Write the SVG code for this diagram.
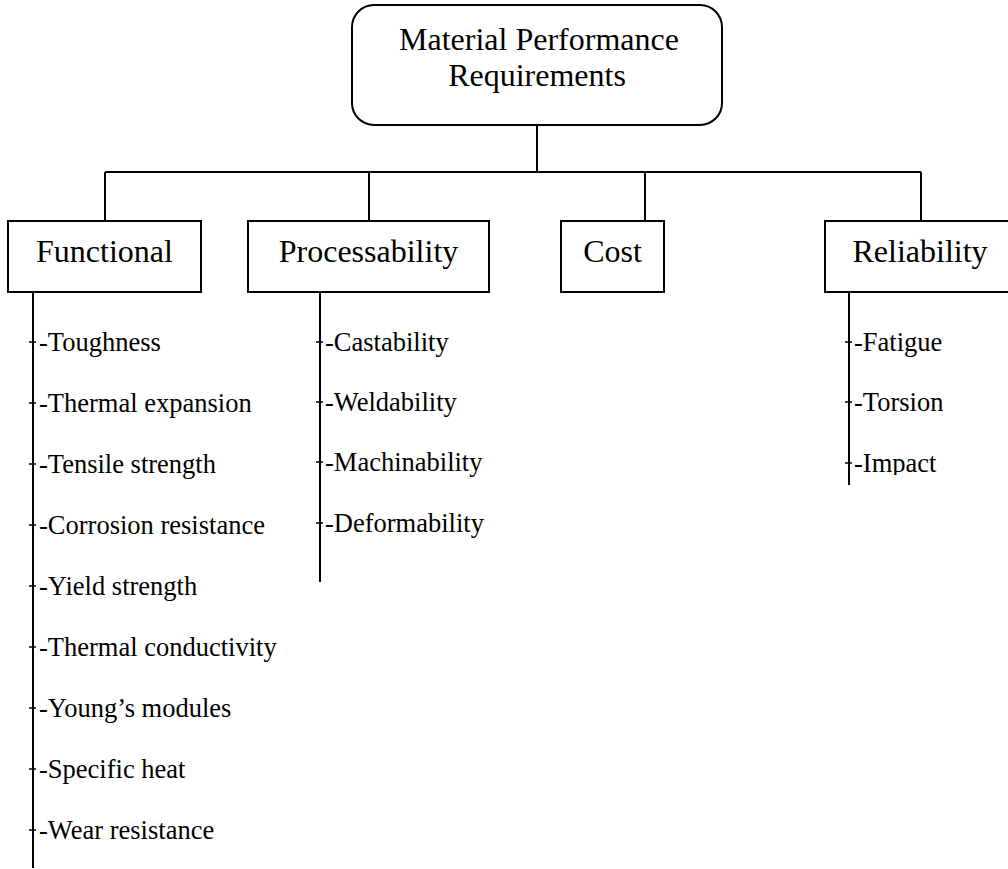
<svg xmlns="http://www.w3.org/2000/svg" width="1008" height="869" viewBox="0 0 1008 869">
  <style>
    .box { fill: #ffffff; stroke: #000000; stroke-width: 2; }
    .wire { fill: none; stroke: #000000; stroke-width: 2; }
    .tick { fill: none; stroke: #000000; stroke-width: 1.5; }
    .head { font-family: "Liberation Serif", "Times New Roman", serif; font-size: 32px; fill: #000000; text-anchor: middle; }
    .item { font-family: "Liberation Serif", "Times New Roman", serif; font-size: 26.5px; fill: #000000; }
  </style>
  <defs>
    <clipPath id="clipImpact">
      <rect x="840" y="440" width="120" height="35"/>
    </clipPath>
  </defs>
  <rect width="1008" height="869" fill="#ffffff"/>

  <!-- tree connectors -->
  <g id="connectors">
    <path class="wire" d="M537 125 V172 M105 172 H921 M105 172 V221 M369 172 V221 M645 172 V221 M921 172 V221"/>
    <!-- list spines -->
    <path class="wire" d="M33 292 V868 M320 292 V582 M849 292 V485"/>
    <!-- list ticks -->
    <path class="tick" d="M29 342 H36 M29 403 H36 M29 464 H36 M29 525 H36 M29 586 H36 M29 647 H36 M29 708 H36 M29 769 H36 M29 830 H36"/>
    <path class="tick" d="M316 342 H323 M316 402 H323 M316 462 H323 M316 523 H323"/>
    <path class="tick" d="M845 342 H852 M845 402 H852 M845 463 H852"/>
  </g>

  <g id="root">
    <rect class="box" x="352" y="5" width="370" height="120" rx="22" ry="22"/>
    <text class="head" x="539" y="50">Material Performance</text>
    <text class="head" x="537" y="86">Requirements</text>
  </g>

  <g id="functional">
    <rect class="box" x="8" y="221" width="193" height="71"/>
    <text class="head" x="104.5" y="262">Functional</text>
    <text class="item" x="39" y="351">-Toughness</text>
    <text class="item" x="39" y="412">-Thermal expansion</text>
    <text class="item" x="39" y="473">-Tensile strength</text>
    <text class="item" x="39" y="534">-Corrosion resistance</text>
    <text class="item" x="39" y="595">-Yield strength</text>
    <text class="item" x="39" y="656">-Thermal conductivity</text>
    <text class="item" x="39" y="717">-Young’s modules</text>
    <text class="item" x="39" y="778">-Specific heat</text>
    <text class="item" x="39" y="839">-Wear resistance</text>
  </g>

  <g id="processability">
    <rect class="box" x="248" y="221" width="241" height="71"/>
    <text class="head" x="368.5" y="262">Processability</text>
    <text class="item" x="325" y="351">-Castability</text>
    <text class="item" x="325" y="411">-Weldability</text>
    <text class="item" x="325" y="471">-Machinability</text>
    <text class="item" x="325" y="532">-Deformability</text>
  </g>

  <g id="cost">
    <rect class="box" x="561" y="221" width="103" height="71"/>
    <text class="head" x="612.5" y="262">Cost</text>
  </g>

  <g id="reliability">
    <rect class="box" x="825" y="221" width="190" height="71"/>
    <text class="head" x="920" y="262">Reliability</text>
    <text class="item" x="854" y="351">-Fatigue</text>
    <text class="item" x="854" y="411">-Torsion</text>
    <text class="item" x="854" y="472" clip-path="url(#clipImpact)">-Impact</text>
  </g>
</svg>
